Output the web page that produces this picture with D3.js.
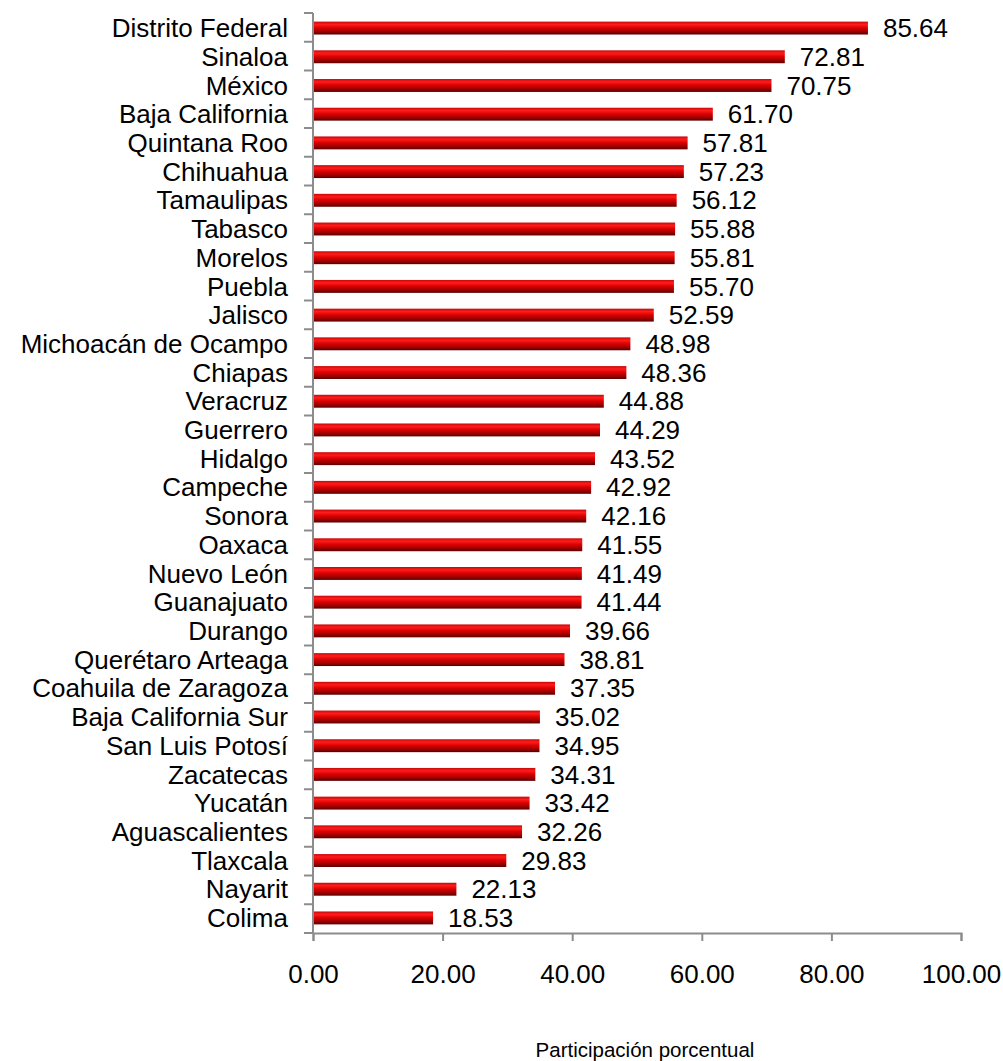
<!DOCTYPE html>
<html>
<head>
<meta charset="utf-8">
<script src="https://cdn.jsdelivr.net/npm/d3@7"></script>
<style>
  body { margin: 0; background: #fff; }
  svg text { font-family: "Liberation Sans", Arial, sans-serif; fill: #000; }
</style>
</head>
<body>
<div id="chart"></div>
<script>
const states = [
  "Distrito Federal", "Sinaloa", "México", "Baja California", "Quintana Roo",
  "Chihuahua", "Tamaulipas", "Tabasco", "Morelos", "Puebla", "Jalisco",
  "Michoacán de Ocampo", "Chiapas", "Veracruz", "Guerrero", "Hidalgo",
  "Campeche", "Sonora", "Oaxaca", "Nuevo León", "Guanajuato", "Durango",
  "Querétaro Arteaga", "Coahuila de Zaragoza", "Baja California Sur",
  "San Luis Potosí", "Zacatecas", "Yucatán", "Aguascalientes", "Tlaxcala",
  "Nayarit", "Colima"
];
const values = [
  85.64, 72.81, 70.75, 61.70, 57.81, 57.23, 56.12, 55.88, 55.81, 55.70, 52.59,
  48.98, 48.36, 44.88, 44.29, 43.52, 42.92, 42.16, 41.55, 41.49, 41.44, 39.66,
  38.81, 37.35, 35.02, 34.95, 34.31, 33.42, 32.26, 29.83, 22.13, 18.53
];
const xTicks = [0, 20, 40, 60, 80, 100];
const xTitle = "Participación porcentual";

const width = 1003, height = 1061;
const margin = { top: 13, right: 42, bottom: 128, left: 313 };

const svg = d3.select("#chart").append("svg")
  .attr("width", width)
  .attr("height", height);

// degradado vertical de las barras
const grad = svg.append("defs").append("linearGradient")
  .attr("id", "barGrad")
  .attr("x1", 0).attr("y1", 0).attr("x2", 0).attr("y2", 1);
grad.append("stop").attr("offset", "0%").attr("stop-color", "#c80808");
grad.append("stop").attr("offset", "22%").attr("stop-color", "#ff1c1c");
grad.append("stop").attr("offset", "50%").attr("stop-color", "#d80000");
grad.append("stop").attr("offset", "78%").attr("stop-color", "#9a0000");
grad.append("stop").attr("offset", "100%").attr("stop-color", "#5a0000");

const x = d3.scaleLinear()
  .domain([0, 100])
  .range([margin.left, width - margin.right]);

const y = d3.scaleBand()
  .domain(states)
  .range([margin.top, height - margin.bottom])
  .paddingInner(0.55)
  .paddingOuter(0.3);

const yBounds = d3.scaleLinear()
  .domain([0, states.length])
  .range([margin.top, height - margin.bottom]);

const axisColor = "#8c8c8c";
const fontSize = "26px";

// barras
svg.append("g")
  .selectAll("rect")
  .data(states)
  .join("rect")
  .attr("x", x(0))
  .attr("y", (d) => y(d))
  .attr("width", (d, i) => x(values[i]) - x(0))
  .attr("height", y.bandwidth())
  .attr("fill", "url(#barGrad)");

// etiquetas de valor
svg.append("g")
  .selectAll("text")
  .data(states)
  .join("text")
  .attr("x", (d, i) => x(values[i]) + 15)
  .attr("y", (d) => y(d) + y.bandwidth() / 2)
  .attr("dy", "0.35em")
  .style("font-size", fontSize)
  .text((d, i) => values[i].toFixed(2));

// eje Y
const yAxis = svg.append("g");
yAxis.append("line")
  .attr("x1", x(0)).attr("x2", x(0))
  .attr("y1", yBounds(0)).attr("y2", yBounds(states.length))
  .attr("stroke", axisColor).attr("stroke-width", 2);
yAxis.selectAll("line.tick")
  .data(d3.range(states.length + 1))
  .join("line")
  .attr("class", "tick")
  .attr("x1", x(0) - 9).attr("x2", x(0))
  .attr("y1", (d) => yBounds(d)).attr("y2", (d) => yBounds(d))
  .attr("stroke", axisColor).attr("stroke-width", 2);
yAxis.selectAll("text")
  .data(states)
  .join("text")
  .attr("x", x(0) - 25)
  .attr("y", (d) => y(d) + y.bandwidth() / 2)
  .attr("dy", "0.35em")
  .attr("text-anchor", "end")
  .style("font-size", fontSize)
  .text((d) => d);

// eje X
const axisY = yBounds(states.length);
const xAxis = svg.append("g")
  .attr("transform", `translate(0,${axisY})`)
  .call(d3.axisBottom(x).tickValues(xTicks).tickSize(8).tickPadding(24)
    .tickFormat((d) => d.toFixed(2)));
xAxis.select(".domain").attr("stroke", axisColor).attr("stroke-width", 2);
xAxis.selectAll(".tick line").attr("stroke", axisColor).attr("stroke-width", 2);
xAxis.selectAll(".tick text")
  .style("font-size", fontSize)
  .style("font-family", "'Liberation Sans', Arial, sans-serif")
  .attr("fill", "#000");

svg.append("text")
  .attr("x", 645)
  .attr("y", 1057)
  .attr("text-anchor", "middle")
  .style("font-size", "20.5px")
  .text(xTitle);
</script>
</body>
</html>
